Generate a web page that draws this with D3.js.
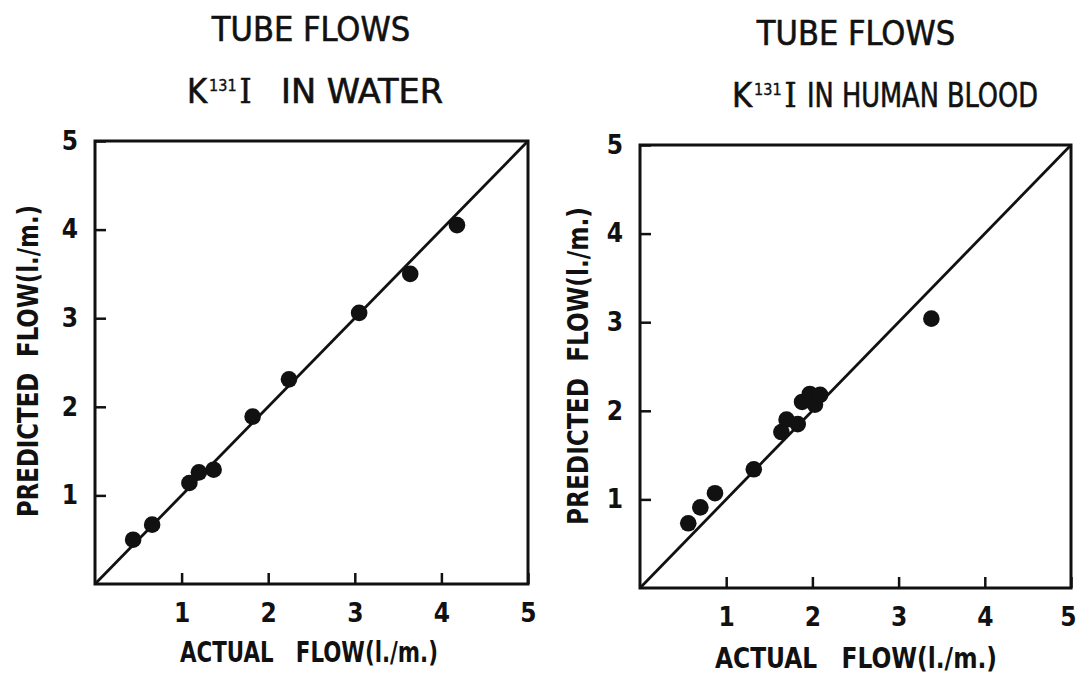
<!doctype html>
<html>
<head>
	<meta charset="utf-8">
	<script src="https://cdnjs.cloudflare.com/ajax/libs/d3/7.8.5/d3.min.js"></script>
	<style>
		body { margin: 0; background: #fff; }
		svg text { fill: #111; }
		.title { font-family: "DejaVu Sans Condensed", "DejaVu Sans", sans-serif; font-size: 34px; stroke: #111; stroke-width: 0.6px; }
		.sup { font-size: 16px; stroke-width: 0.4px; }
		.roman { font-family: "DejaVu Serif Condensed", "DejaVu Serif", serif; }
		.tick text { font-family: "DejaVu Sans Condensed", sans-serif; font-weight: bold; font-size: 26px; fill: #111; }
		.axlabel { font-family: "DejaVu Sans Condensed", sans-serif; font-weight: bold; font-size: 29px; }
	</style>
</head>
<body>
<script>
	// values
	var tickVals = [1, 2, 3, 4, 5];

	var waterActual    = [0.44, 0.66, 1.09, 1.20, 1.37, 1.82, 2.24, 3.05, 3.64, 4.18];
	var waterPredicted = [0.50, 0.67, 1.14, 1.26, 1.29, 1.89, 2.31, 3.06, 3.50, 4.05];

	var bloodActual    = [0.56, 0.70, 0.87, 1.32, 1.64, 1.70, 1.83, 1.88, 1.97, 2.03, 2.09, 3.38];
	var bloodPredicted = [0.73, 0.91, 1.07, 1.34, 1.76, 1.90, 1.85, 2.10, 2.19, 2.07, 2.18, 3.04];

	var svg = d3.select("body").append("svg")
		.attr("width", 1078)
		.attr("height", 674);

	function panel(o) {
		var x = d3.scaleLinear().domain([0, 5]).range([o.x0, o.x1]);
		var y = d3.scaleLinear().domain([0, 5]).range([o.y0, o.y1]);
		var g = svg.append("g");

		// titles
		g.append("text").attr("class", "title")
			.attr("x", o.t1x).attr("y", o.t1y)
			.attr("text-anchor", "middle")
			.text("TUBE FLOWS");
		var t2 = g.append("text").attr("class", "title")
			.attr("x", o.t2x).attr("y", o.t2y);
		t2.append("tspan").text("K");
		t2.append("tspan").attr("class", "sup").attr("dx", 2).attr("dy", -12).text("131");
		t2.append("tspan").attr("class", "roman").attr("dx", 3).attr("dy", 12).text("I");
		g.append("text").attr("class", "title")
			.attr("x", o.mx).attr("y", o.t2y)
			.attr("textLength", o.mw).attr("lengthAdjust", "spacingAndGlyphs")
			.text(o.medium);

		// axes (ticks pointing inwards)
		g.append("g")
			.attr("transform", "translate(0," + o.y0 + ")")
			.call(d3.axisBottom(x).tickValues(tickVals).tickSize(-11).tickPadding(20).tickFormat(d3.format("d")))
			.call(s => s.select(".domain").remove())
			.call(s => s.selectAll(".tick line").attr("stroke", "#111").attr("stroke-width", 2.5))
			.call(s => s.selectAll(".tick text").filter(d => d == 5).attr("dx", o.lastdx));
		g.append("g")
			.attr("transform", "translate(" + o.x0 + ",0)")
			.call(d3.axisLeft(y).tickValues(tickVals).tickSize(-11).tickPadding(17).tickFormat(d3.format("d")))
			.call(s => s.select(".domain").remove())
			.call(s => s.selectAll(".tick line").attr("stroke", "#111").attr("stroke-width", 2.5));

		// frame
		g.append("rect")
			.attr("x", x(0)).attr("y", y(5))
			.attr("width", x(5) - x(0)).attr("height", y(0) - y(5))
			.attr("fill", "none").attr("stroke", "#111").attr("stroke-width", 3);

		// line of identity
		g.append("line")
			.attr("x1", x(0)).attr("y1", y(0))
			.attr("x2", x(5)).attr("y2", y(5))
			.attr("stroke", "#111").attr("stroke-width", 2.8);

		g.selectAll("circle")
			.data(o.xs.map((d, i) => [d, o.ys[i]]))
			.enter().append("circle")
			.attr("cx", d => x(d[0]))
			.attr("cy", d => y(d[1]))
			.attr("r", 8.3)
			.attr("fill", "#111");

		// axis labels
		g.append("text").attr("class", "axlabel")
			.attr("x", o.xlx).attr("y", o.xly)
			.attr("textLength", o.xlw).attr("lengthAdjust", "spacingAndGlyphs")
			.attr("xml:space", "preserve")
			.text("ACTUAL   FLOW(l./m.)");
		g.append("text").attr("class", "axlabel")
			.attr("transform", "translate(" + o.ylx + "," + o.yly + ") rotate(-90)")
			.attr("textLength", o.ylw).attr("lengthAdjust", "spacingAndGlyphs")
			.attr("xml:space", "preserve")
			.text("PREDICTED  FLOW(l./m.)");
	}

	panel({ x0: 95, x1: 528, y0: 584, y1: 141, xs: waterActual, ys: waterPredicted,
		medium: "IN WATER", t1x: 311, t1y: 41, t2x: 187, t2y: 103, mx: 281, mw: 162,
		xlx: 180, xly: 662, xlw: 258, ylx: 38, yly: 517, ylw: 312, lastdx: 0 });

	panel({ x0: 640, x1: 1071, y0: 588, y1: 145, xs: bloodActual, ys: bloodPredicted,
		medium: "IN HUMAN BLOOD", t1x: 856, t1y: 45, t2x: 732, t2y: 107, mx: 807, mw: 231,
		xlx: 715, xly: 668, xlw: 282, ylx: 588, yly: 525, ylw: 318, lastdx: -3 });
</script>
</body>
</html>
